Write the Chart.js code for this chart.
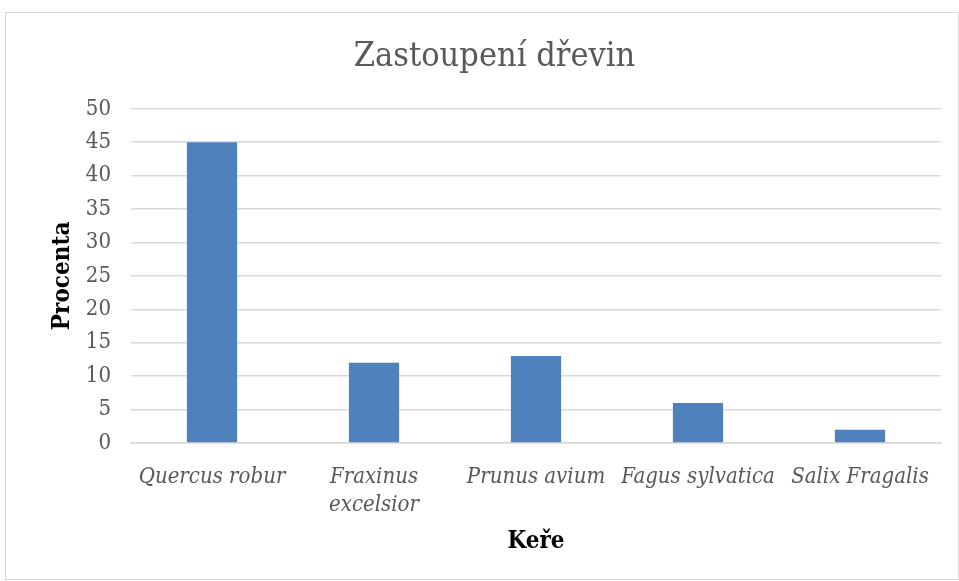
<!DOCTYPE html>
<html>
<head>
<meta charset="utf-8">
<script src="https://cdn.jsdelivr.net/npm/chart.js@4"></script>
<style>
  body { margin: 0; background: #fff; }
  #frame { position: absolute; left: 5px; top: 12px; width: 952px; height: 566px; border: 1px solid #d9d9d9; }
  #wrap { position: absolute; left: 0; top: 0; width: 959px; height: 581px; }
</style>
</head>
<body>
<div id="frame"></div>
<div id="wrap"><canvas id="chart" width="959" height="581"></canvas></div>
<script>
// chart data
const categories = ['Quercus robur', ['Fraxinus', 'excelsior'], 'Prunus avium', 'Fagus sylvatica', 'Salix Fragalis'];
const percentages = [45, 12, 13, 6, 2];
const yTicks = [0, 5, 10, 15, 20, 25, 30, 35, 40, 45, 50];

const serif = "'DejaVu Serif Condensed', 'DejaVu Serif', serif";

window.onload = function () {
  const ctx = document.getElementById('chart').getContext('2d');

  new Chart(ctx, {
    type: 'bar',
    data: {
      labels: categories,
      datasets: [{
        label: 'Procenta',
        data: percentages,
        backgroundColor: '#4f81bd',
        barPercentage: 0.62,
        categoryPercentage: 0.5
      }]
    },
    options: {
      responsive: false,
      animation: false,
      layout: { padding: { left: 48, right: 18, top: 0, bottom: 20 } },
      plugins: {
        legend: { display: false },
        tooltip: { enabled: false },
        title: {
          display: true,
          text: 'Zastoupení dřevin',
          color: '#595959',
          font: { family: serif, size: 34, weight: 'normal' },
          padding: { top: 37, bottom: 31 }
        }
      },
      scales: {
        x: {
          grid: { display: false },
          border: { color: '#d9d9d9', width: 1.5 },
          ticks: {
            color: '#595959',
            font: { family: serif, size: 22, style: 'italic', lineHeight: 1.25 },
            padding: 13,
            maxRotation: 0,
            autoSkip: false
          },
          title: {
            display: true,
            text: 'Keře',
            color: '#000',
            font: { family: serif, size: 24, weight: 'bold' },
            padding: { top: 0, bottom: 5 }
          },
          afterFit: scale => { scale.height = 118; }
        },
        y: {
          min: 0,
          max: 50,
          afterBuildTicks: scale => { scale.ticks = yTicks.map(v => ({ value: v })); },
          grid: { color: '#d9d9d9', lineWidth: 1.5, drawTicks: false },
          border: { display: false },
          ticks: {
            color: '#595959',
            font: { family: serif, size: 22 },
            padding: 20
          },
          title: {
            display: true,
            text: 'Procenta',
            color: '#000',
            font: { family: serif, size: 24, weight: 'bold' },
            padding: { top: 0, bottom: 0 }
          },
          afterFit: scale => { scale.width = 83; }
        }
      }
    }
  });
};
</script>
</body>
</html>
